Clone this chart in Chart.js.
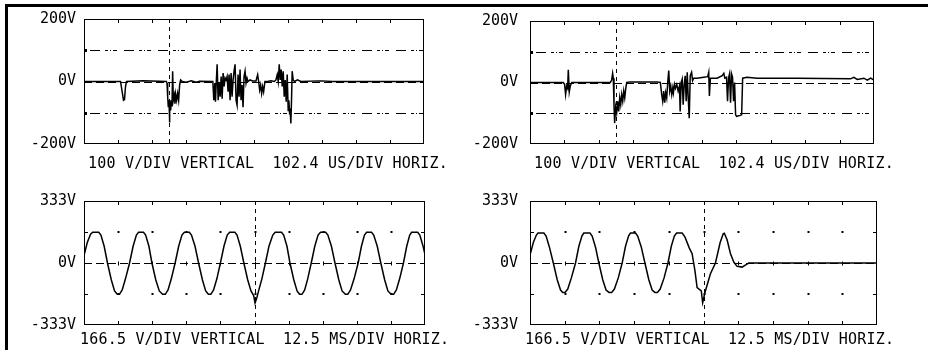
<!DOCTYPE html>
<html>
<head>
<meta charset="utf-8">
<script src="https://cdn.jsdelivr.net/npm/chart.js@4.4.1/dist/chart.umd.min.js"></script>
<style>
  body { margin: 0; background: #fff; }
  #tela { position: relative; width: 928px; height: 350px; overflow: hidden; background: #fff; }
  #moldura { position: absolute; left: 5px; top: 4px; width: 940px; height: 360px; border-top: 3px solid #000; border-left: 3px solid #000; }
  canvas { position: absolute; }
  .legenda { position: absolute; font-family: 'DejaVu Sans Mono', monospace; font-size: 15px; letter-spacing: 0.2px; line-height: 18px; white-space: pre; color: #000; }
</style>
</head>
<body>
<div id="tela">
  <div id="moldura"></div>
  <canvas id="scope1" width="464" height="175" style="left:0;top:0"></canvas>
  <canvas id="scope2" width="464" height="175" style="left:464px;top:0"></canvas>
  <canvas id="scope3" width="464" height="175" style="left:0;top:175px"></canvas>
  <canvas id="scope4" width="464" height="175" style="left:464px;top:175px"></canvas>
  <div class="legenda" id="cap1" style="left:88px;top:154px"></div>
  <div class="legenda" id="cap2" style="left:534px;top:154px"></div>
  <div class="legenda" id="cap3" style="left:80px;top:330px"></div>
  <div class="legenda" id="cap4" style="left:525px;top:330px"></div>
</div>
<script>
// Captions and axis labels
const captionTop = '100 V/DIV VERTICAL  102.4 US/DIV HORIZ.';
const captionBottom = '166.5 V/DIV VERTICAL  12.5 MS/DIV HORIZ.';
const ticksTop = [-200, 0, 200];
const ticksBottom = [-333, 0, 333];

// Reference levels drawn on the graticule
const refLevelsTop = [-100, 100];
const dotLevelsBottom = [-166.5, 166.5];
const cursorTop = 256;     // us
const cursorBottom = 62.5; // ms

// Traces: [time, volts]. Top traces in us, bottom traces in ms
const trace1 = [
  [0,0],[110,0],[115,-33],[119,-60],[122,-58],[125,-16],[128,0],[178,2],[248,0],
  [250,-5],[252,-49],[254,-82],[256,-60],[257,-131],[259,-65],[261,-93],[263,-60],[265,-80],[267,33],
  [269,-60],[272,-44],[274,-71],[276,-40],[279,-60],[282,-38],[285,-60],[288,-11],[291,5],[296,0],
  [308,-2],[323,2],[338,-2],[348,1],[388,0],
  [391,-60],[394,-5],[396,-65],[398,-11],[401,55],[404,-60],[407,-5],[410,-49],[413,16],[416,-55],
  [419,27],[422,-16],[425,11],[428,5],[431,16],[434,-33],[437,22],[440,-60],[443,27],[446,-49],
  [449,5],[452,33],[455,55],[458,-60],[461,-76],[464,22],[467,-49],[470,38],[473,-60],[476,-11],
  [479,-82],[482,16],[485,33],[488,-5],[491,11],[494,0],[500,5],[508,2],[518,2],[523,22],[526,0],
  [529,-27],[532,-11],[535,-38],[538,-16],[541,-33],[545,0],[553,0],[563,2],[573,0],
  [578,5],[582,22],[585,0],[588,55],[591,5],[594,38],[597,-16],[600,33],[603,-49],[606,5],
  [609,-65],[612,22],[615,-93],[617,-60],[619,-98],[621,-93],[623,-134],[625,-60],[627,33],[630,5],
  [634,0],[643,5],[653,0],[708,2],[716,2],[748,0],[788,0],[1024,0]
];

const trace2 = [
  [0,0],[99,0],[103,-6],[106,-39],[109,-11],[112,-19],[114,41],[117,-30],[120,-11],[124,0],
  [239,0],[243,8],[246,30],[248,14],[250,-72],[252,-132],[255,-80],[258,-99],[261,-61],[264,-94],
  [267,-50],[270,-72],[273,-39],[276,-61],[279,-28],[282,-50],[285,-19],[288,0],[298,2],[378,2],
  [388,0],[392,-39],[395,-61],[398,-28],[401,-66],[404,-33],[407,-50],[410,0],[413,39],[416,-28],
  [419,-11],[422,-39],[425,-17],[427,-33],[430,-6],[433,-19],[437,-6],[441,-28],[445,-11],[447,-94],
  [450,0],[453,11],[456,-72],[459,-6],[462,22],[465,-61],[468,33],[471,-50],[474,-116],[477,22],
  [481,33],[484,6],[487,14],[497,14],[517,17],[529,19],[532,33],[534,-44],[537,14],[557,14],
  [572,22],[577,30],[580,14],[585,17],[588,-61],[591,14],[594,28],[597,-66],[600,28],[603,17],
  [606,-61],[609,0],[612,-105],[615,-110],[626,-107],[630,-105],[633,14],[646,17],[676,14],
  [795,14],[954,12],[964,17],[974,10],[994,14],[1004,8],[1014,14],[1024,8]
];

const trace3 = [
  [0,40],[1.2,110],[2.4,155],[3.2,165],[5.4,165],[6.2,150],[7.4,90],[8.6,0],[10.0,-90],[11.2,-150],
  [12.2,-168],[13.0,-168],[14.0,-145],[15.2,-85],[16.7,0],[18.0,90],[19.2,150],[20.0,165],[21.8,165],
  [22.6,150],[23.8,90],[24.9,0],[26.3,-90],[27.6,-150],[28.8,-168],[29.8,-168],[30.8,-145],[32.0,-85],
  [33.4,0],[34.7,90],[35.9,150],[36.8,165],[38.6,165],[39.4,150],[40.7,90],[42.0,0],[43.4,-90],
  [44.6,-150],[45.6,-168],[46.5,-168],[47.5,-145],[48.7,-85],[50.0,0],[51.3,90],[52.5,150],[53.4,165],
  [55.3,165],[56.1,150],[57.3,90],[58.6,0],[60.0,-90],[61.2,-150],[62.2,-175],[62.7,-215],[63.3,-190],
  [64.0,-150],[65.2,-85],[66.5,0],[67.8,90],[69.2,150],[70.1,165],[72.4,165],[73.2,150],[74.4,90],
  [75.5,0],[76.9,-90],[78.1,-150],[79.0,-168],[79.9,-168],[80.9,-145],[82.0,-85],[83.3,0],[84.6,90],
  [85.8,150],[86.7,165],[88.6,165],[89.4,150],[90.7,90],[92.0,0],[93.4,-90],[94.6,-150],[95.8,-168],
  [96.7,-168],[97.7,-145],[99.0,-85],[100.5,0],[101.7,90],[102.8,150],[103.6,165],[105.4,165],
  [106.2,150],[107.5,90],[108.8,0],[110.2,-90],[111.4,-150],[112.6,-168],[113.5,-168],[114.5,-145],
  [115.7,-85],[117.1,0],[118.3,90],[119.4,150],[120.1,165],[122.3,165],[123.1,150],[124.3,90],[125,45]
];

const trace4 = [
  [0,42],[1.2,110],[2.3,150],[2.9,161],[5.0,161],[5.8,145],[7.0,85],[8.4,0],[9.8,-90],[11.0,-145],
  [11.8,-158],[12.6,-158],[13.6,-140],[14.9,-80],[16.4,0],[17.6,90],[18.7,145],[19.4,161],[21.6,161],
  [22.4,145],[23.6,85],[24.8,0],[26.2,-90],[27.4,-145],[28.5,-158],[29.4,-158],[30.4,-140],[31.8,-80],
  [33.2,0],[34.4,90],[35.5,145],[36.2,161],[38.0,161],[38.8,145],[40.1,85],[41.4,0],[42.8,-90],
  [44.0,-145],[45.0,-158],[45.9,-158],[46.9,-140],[48.3,-80],[49.7,0],[50.9,90],[52.0,145],[52.8,161],
  [54.8,161],[55.8,140],[57.4,80],[58.4,50],[59.4,-40],[60.2,-132],[61.7,-150],[62.2,-214],[63.0,-160],
  [65.0,-58],[66.8,0],[68.5,110],[69.6,157],[70.0,160],[71.0,125],[72.2,51],[73.4,5],[74.6,-18],
  [76.4,-22],[78.0,-7],[78.8,0],[125,0]
];

// Draws a short line
function seg(ctx, x1, y1, x2, y2) {
  ctx.beginPath();
  ctx.moveTo(x1, y1);
  ctx.lineTo(x2, y2);
  ctx.stroke();
}

// Oscilloscope graticule: edge ticks, reference lines, cursor and frame
const scopeGrid = {
  id: 'scopeGrid',
  beforeDatasetsDraw(chart, args, opts) {
    const { ctx, chartArea: a, scales: { x, y } } = chart;
    const step = (x.max - x.min) / 10;
    const y0 = Math.round(y.getPixelForValue(0)) + 0.5;
    ctx.save();
    ctx.strokeStyle = '#000';
    ctx.fillStyle = '#000';
    ctx.lineWidth = 1;

    for (let i = 1; i < 10; i++) {
      const px = Math.round(x.getPixelForValue(x.min + i * step)) + 0.5;
      seg(ctx, px, a.top, px, a.top + 4);
      seg(ctx, px, a.bottom - 4, px, a.bottom);
      if (opts.cross) seg(ctx, px, y0 - 2, px, y0 + 2);
      opts.dots.forEach(v => {
        const py = Math.round(y.getPixelForValue(v));
        ctx.fillRect(px - 1, py - 1, 2, 2);
      });
    }

    opts.edgeTicks.forEach(v => {
      const py = Math.round(y.getPixelForValue(v)) + 0.5;
      seg(ctx, a.left, py, a.left + 4, py);
      seg(ctx, a.right - 4, py, a.right, py);
    });

    // dash-dot reference levels
    ctx.setLineDash([10, 5, 3, 2, 1, 2, 4, 7]);
    ctx.lineDashOffset = -6;
    opts.refLevels.forEach(v => {
      const py = Math.round(y.getPixelForValue(v)) + 0.5;
      seg(ctx, a.left, py, a.right, py);
      ctx.fillRect(a.left, py - 1.5, 3, 3);
    });

    // dashed zero line
    ctx.setLineDash([8, 4]);
    ctx.lineDashOffset = 0;
    seg(ctx, a.left, y0, a.right, y0);

    // dashed cursor
    ctx.setLineDash([4, 4]);
    const cx = Math.round(x.getPixelForValue(opts.cursor)) + 0.5;
    seg(ctx, cx, a.top, cx, a.bottom);
    ctx.restore();
  },
  afterDatasetsDraw(chart) {
    const { ctx, chartArea: a } = chart;
    ctx.save();
    ctx.strokeStyle = '#000';
    ctx.lineWidth = 1;
    ctx.strokeRect(Math.round(a.left) + 0.5, Math.round(a.top) + 0.5, Math.round(a.width) - 1, Math.round(a.height) - 1);
    ctx.restore();
  }
};

// Builds one scope panel
function criarScope(id, trace, cfg) {
  return new Chart(document.getElementById(id), {
    type: 'line',
    data: {
      datasets: [{
        data: trace.map(p => ({ x: p[0], y: p[1] })),
        borderColor: '#000',
        borderWidth: 1.5,
        pointRadius: 0,
        tension: 0
      }]
    },
    options: {
      responsive: false,
      animation: false,
      devicePixelRatio: 1,
      layout: { padding: { left: 0, top: cfg.top, right: cfg.right, bottom: cfg.bottom } },
      plugins: {
        legend: { display: false },
        tooltip: { enabled: false },
        scopeGrid: cfg.grid
      },
      scales: {
        x: { type: 'linear', min: 0, max: cfg.xMax, display: false },
        y: {
          min: -cfg.yMax,
          max: cfg.yMax,
          afterFit: s => { s.width = cfg.left; },
          afterBuildTicks: s => { s.ticks = cfg.yTicks.map(v => ({ value: v })); },
          grid: { display: false, drawTicks: false },
          border: { display: false },
          ticks: {
            padding: cfg.labelPad,
            color: '#000',
            font: { family: 'DejaVu Sans Mono', size: 15 },
            callback: v => v + 'V'
          }
        }
      }
    },
    plugins: [scopeGrid]
  });
}

const gridTop = { refLevels: refLevelsTop, dots: [], edgeTicks: [0], cursor: cursorTop, cross: false };
const gridBottom = { refLevels: [], dots: dotLevelsBottom, edgeTicks: dotLevelsBottom, cursor: cursorBottom, cross: true };

criarScope('scope1', trace1, { left: 84, right: 40, top: 19, bottom: 31, labelPad: 8, xMax: 1024, yMax: 200, yTicks: ticksTop, grid: gridTop });
criarScope('scope2', trace2, { left: 66, right: 54, top: 19, bottom: 31, labelPad: 12, xMax: 1024, yMax: 200, yTicks: ticksTop, grid: gridTop });
criarScope('scope3', trace3, { left: 84, right: 39, top: 26, bottom: 25, labelPad: 8, xMax: 125, yMax: 333, yTicks: ticksBottom, grid: gridBottom });
criarScope('scope4', trace4, { left: 66, right: 51, top: 26, bottom: 25, labelPad: 12, xMax: 125, yMax: 333, yTicks: ticksBottom, grid: gridBottom });

document.getElementById('cap1').textContent = captionTop;
document.getElementById('cap2').textContent = captionTop;
document.getElementById('cap3').textContent = captionBottom;
document.getElementById('cap4').textContent = captionBottom;
</script>
</body>
</html>
